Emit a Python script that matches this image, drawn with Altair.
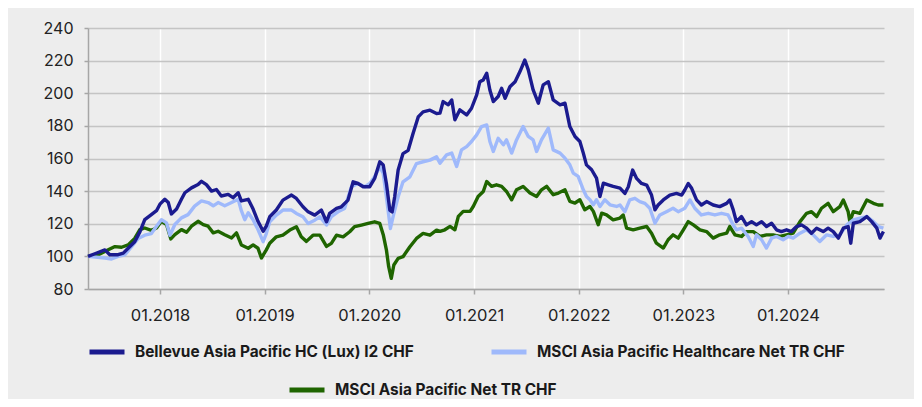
import altair as alt
import pandas as pd

# ---- data (decimal year, indexed value) ----
bellevue_t = [2017.315, 2017.379, 2017.475, 2017.522, 2017.602, 2017.650, 2017.697, 2017.761, 2017.809, 2017.857,
              2017.920, 2017.968, 2018.000, 2018.048, 2018.080, 2018.111, 2018.159, 2018.207, 2018.239, 2018.302,
              2018.366, 2018.398, 2018.446, 2018.494, 2018.541, 2018.589, 2018.653, 2018.701, 2018.748, 2018.780,
              2018.844, 2018.892, 2018.939, 2018.987, 2019.019, 2019.051, 2019.115, 2019.178, 2019.258, 2019.306,
              2019.369, 2019.417, 2019.481, 2019.545, 2019.592, 2019.624, 2019.688, 2019.736, 2019.799, 2019.847,
              2019.895, 2019.943, 2020.006, 2020.054, 2020.102, 2020.134, 2020.166, 2020.197, 2020.220, 2020.245,
              2020.277, 2020.325, 2020.373, 2020.420, 2020.468, 2020.516, 2020.580, 2020.643, 2020.675, 2020.707,
              2020.755, 2020.787, 2020.818, 2020.866, 2020.930, 2020.978, 2021.025, 2021.057, 2021.089, 2021.121,
              2021.153, 2021.185, 2021.232, 2021.264, 2021.296, 2021.344, 2021.392, 2021.439, 2021.487, 2021.519,
              2021.567, 2021.615, 2021.662, 2021.710, 2021.758, 2021.822, 2021.869, 2021.917, 2021.965, 2022.013,
              2022.044, 2022.076, 2022.124, 2022.172, 2022.204, 2022.236, 2022.283, 2022.331, 2022.395, 2022.443,
              2022.474, 2022.516, 2022.554, 2022.602, 2022.650, 2022.697, 2022.729, 2022.761, 2022.809, 2022.873,
              2022.936, 2022.984, 2023.016, 2023.048, 2023.080, 2023.127, 2023.175, 2023.223, 2023.287, 2023.350,
              2023.414, 2023.446, 2023.478, 2023.509, 2023.557, 2023.605, 2023.653, 2023.701, 2023.748, 2023.796,
              2023.844, 2023.892, 2023.939, 2023.987, 2024.035, 2024.083, 2024.130, 2024.178, 2024.226, 2024.274,
              2024.338, 2024.385, 2024.433, 2024.481, 2024.529, 2024.576, 2024.599, 2024.624, 2024.688, 2024.752,
              2024.799, 2024.847, 2024.879, 2024.911]
bellevue_v = [100, 101.6, 104, 101, 101, 102, 105, 109, 115, 122.5,
              125.6, 128, 132, 135, 133, 126, 129, 135, 139, 142,
              144, 146, 144, 140, 141, 137, 138, 136, 139, 134,
              135, 129, 121.5, 115.4, 118.5, 124.3, 128.4, 134.5, 137.6, 135.5,
              130.4, 127.3, 125.3, 128.4, 121.2, 126.3, 129.4, 130.4, 134.5, 145.7,
              144.7, 142.7, 142.7, 147.8, 158, 156, 144.7, 128.4, 127.3, 136.5,
              152.9, 163, 165, 175.3, 185.5, 188.6, 189.6, 187.6, 187.8, 194.9,
              192.9, 195.9, 183.7, 189.8, 186.7, 190.8, 199, 207.1, 208.2, 212.2,
              202, 194.9, 198, 203, 196.9, 204, 207.1, 213.3, 220.4, 214.3,
              202, 193.9, 205.1, 207.1, 195.9, 192.9, 193.9, 179.6, 173.5, 170.4,
              163.3, 156.1, 153.1, 148, 136.7, 144.9, 143.9, 142.9, 141.8, 138.6,
              142.7, 152.9, 147.8, 144.7, 143.7, 137.6, 128.5, 131.5, 134.6, 137.6,
              138.6, 137.6, 140.7, 144.7, 141.7, 134.6, 131.5, 133.6, 131.5, 130.5,
              132.5, 134.6, 128.5, 121.3, 124.4, 119.3, 121.3, 119.3, 121.3, 118.3,
              120.3, 116.3, 115.2, 116.3, 115.2, 118.3, 119.3, 117.3, 114.2, 117.3,
              115.2, 117.3, 115.2, 111.2, 117.3, 118.3, 108.1, 120.3, 121.3, 124.4,
              121.3, 117.3, 111.2, 115.2]

healthcare_t = [2017.315, 2017.475, 2017.538, 2017.602, 2017.666, 2017.729, 2017.793, 2017.857, 2017.920, 2017.968,
                2018.016, 2018.064, 2018.096, 2018.143, 2018.207, 2018.271, 2018.334, 2018.398, 2018.462, 2018.510,
                2018.557, 2018.621, 2018.685, 2018.748, 2018.780, 2018.812, 2018.844, 2018.892, 2018.939, 2018.987,
                2019.019, 2019.051, 2019.115, 2019.178, 2019.258, 2019.306, 2019.369, 2019.417, 2019.481, 2019.529,
                2019.592, 2019.640, 2019.704, 2019.767, 2019.831, 2019.895, 2019.959, 2020.006, 2020.054, 2020.102,
                2020.134, 2020.166, 2020.204, 2020.236, 2020.277, 2020.325, 2020.389, 2020.452, 2020.516, 2020.580,
                2020.643, 2020.675, 2020.739, 2020.787, 2020.834, 2020.882, 2020.930, 2020.978, 2021.025, 2021.073,
                2021.121, 2021.153, 2021.185, 2021.232, 2021.280, 2021.312, 2021.360, 2021.408, 2021.471, 2021.519,
                2021.567, 2021.599, 2021.646, 2021.710, 2021.758, 2021.822, 2021.869, 2021.917, 2021.949, 2021.997,
                2022.044, 2022.076, 2022.108, 2022.140, 2022.172, 2022.204, 2022.252, 2022.299, 2022.363, 2022.395,
                2022.443, 2022.490, 2022.538, 2022.586, 2022.634, 2022.681, 2022.729, 2022.777, 2022.841, 2022.904,
                2022.952, 2023.016, 2023.064, 2023.111, 2023.175, 2023.239, 2023.302, 2023.366, 2023.430, 2023.478,
                2023.509, 2023.557, 2023.621, 2023.669, 2023.701, 2023.748, 2023.796, 2023.844, 2023.892, 2023.955,
                2024.003, 2024.051, 2024.115, 2024.178, 2024.242, 2024.306, 2024.369, 2024.433, 2024.497, 2024.561,
                2024.624, 2024.688, 2024.752, 2024.815, 2024.863, 2024.911]
healthcare_v = [100, 99, 98.4, 100, 101, 106, 111, 113, 114, 118.5,
                122.5, 120.5, 113, 119.5, 123.6, 125.6, 130.8, 134, 133, 131,
                133, 131, 133, 135, 128, 122.5, 126.7, 122.5, 116.4, 109,
                114, 121.2, 125.3, 128.4, 128.4, 126.3, 124.3, 120.2, 122.2, 124.3,
                119.2, 124.3, 127.3, 129.4, 142.7, 144.7, 142.7, 144.7, 148.8, 154.9,
                150.8, 136.5, 117.1, 126.3, 136.5, 145.7, 148.8, 156.9, 158, 159,
                161, 157.1, 162.2, 163.3, 155.1, 165.3, 167.3, 170.4, 174.5, 179.6,
                180.6, 170.4, 164.3, 172.4, 168.4, 171.4, 163.3, 171.4, 179.6, 173.5,
                171.4, 164.3, 171.4, 178.6, 165.3, 163.3, 160.2, 156.1, 151, 149,
                140.8, 136.7, 134.7, 131.6, 134.7, 130.6, 134.7, 131.6, 130.6, 131.5,
                127.4, 134.6, 135.6, 133.6, 132.5, 129.5, 120.3, 125.4, 127.4, 129.5,
                127.4, 129.5, 134.6, 129.5, 125.4, 126.4, 125.4, 126.4, 125.4, 119.3,
                116.3, 117.3, 112.2, 106.1, 113.2, 110.2, 105.1, 111.2, 112.2, 110.2,
                112.2, 111.2, 114.2, 116.3, 113.2, 109.1, 113.2, 112.2, 113.2, 119.3,
                122.4, 123.4, 124.4, 121.3, 118.3, 117.3]

asiapac_t = [2017.315, 2017.411, 2017.522, 2017.570, 2017.634, 2017.697, 2017.761, 2017.809, 2017.857, 2017.920,
             2017.968, 2018.016, 2018.064, 2018.105, 2018.143, 2018.207, 2018.255, 2018.302, 2018.366, 2018.414,
             2018.462, 2018.510, 2018.557, 2018.621, 2018.685, 2018.732, 2018.780, 2018.844, 2018.892, 2018.939,
             2018.971, 2019.019, 2019.051, 2019.115, 2019.178, 2019.242, 2019.306, 2019.353, 2019.401, 2019.465,
             2019.529, 2019.592, 2019.640, 2019.688, 2019.752, 2019.815, 2019.863, 2019.927, 2019.990, 2020.054,
             2020.102, 2020.134, 2020.166, 2020.188, 2020.213, 2020.236, 2020.277, 2020.325, 2020.389, 2020.452,
             2020.516, 2020.580, 2020.643, 2020.675, 2020.723, 2020.771, 2020.818, 2020.850, 2020.898, 2020.962,
             2020.994, 2021.041, 2021.089, 2021.121, 2021.169, 2021.216, 2021.264, 2021.312, 2021.360, 2021.408,
             2021.471, 2021.535, 2021.599, 2021.646, 2021.694, 2021.758, 2021.806, 2021.869, 2021.917, 2021.965,
             2022.013, 2022.060, 2022.108, 2022.140, 2022.188, 2022.220, 2022.267, 2022.331, 2022.395, 2022.427,
             2022.459, 2022.522, 2022.586, 2022.650, 2022.697, 2022.745, 2022.809, 2022.857, 2022.904, 2022.952,
             2023.000, 2023.048, 2023.096, 2023.159, 2023.223, 2023.287, 2023.350, 2023.414, 2023.446, 2023.494,
             2023.557, 2023.605, 2023.669, 2023.732, 2023.796, 2023.860, 2023.924, 2023.987, 2024.051, 2024.115,
             2024.178, 2024.226, 2024.274, 2024.322, 2024.385, 2024.433, 2024.497, 2024.529, 2024.576, 2024.592,
             2024.624, 2024.688, 2024.752, 2024.815, 2024.863, 2024.911]
asiapac_v = [100, 101, 104.5, 106, 105.6, 107, 111, 116.4, 117.4, 116,
             117.4, 121.5, 119.5, 110.7, 113.3, 116.4, 114.8, 118.5, 121.5, 119.5,
             118.5, 114.4, 115.4, 113.3, 111.3, 114.4, 107, 105, 107, 105,
             99, 104, 108, 112, 113, 116.1, 118.2, 112, 109.2, 113,
             113, 106.1, 108, 113, 112, 115.1, 118.2, 119.2, 120.2, 121.2,
             120.2, 113.3, 104, 93.7, 86.5, 94.7, 98.8, 99.8, 105.9, 111,
             114.1, 113, 116.1, 115.3, 116.3, 118.4, 116.3, 124.5, 127.6, 127.6,
             130.6, 136.7, 139.8, 145.9, 142.9, 143.9, 142.9, 139.8, 134.7, 140.8,
             142.9, 138.8, 136.7, 140.8, 142.9, 137.8, 138.8, 140.8, 133.7, 132.7,
             134.7, 128.6, 130.6, 127.6, 119.4, 126.5, 125.5, 122.4, 123.5, 125.4,
             117.3, 116.3, 117.3, 118.3, 114.2, 108.1, 105.1, 110.2, 113.2, 111.2,
             116.3, 121.3, 119.3, 116.3, 115.2, 111.2, 113.2, 114.2, 118.3, 113.2,
             112.2, 115.2, 115.2, 112.2, 113.2, 113.2, 112.2, 113.2, 114.2, 121.3,
             126.4, 127.4, 124.4, 129.5, 132.5, 127.4, 130.5, 134.6, 127.4, 121.3,
             127.4, 126.4, 134.6, 132.5, 131.5, 131.5]

series_names = ["Bellevue Asia Pacific HC (Lux) I2 CHF",
                "MSCI Asia Pacific Healthcare Net TR CHF",
                "MSCI Asia Pacific Net TR CHF"]
series_colors = ["#1b1b8f", "#9fb9fb", "#1f6500"]
x_tick_years = [2018, 2019, 2020, 2021, 2022, 2023, 2024]
y_ticks = [80, 100, 120, 140, 160, 180, 200, 220, 240]


def to_date(t):
    y = int(t)
    start = pd.Timestamp(year=y, month=1, day=1)
    end = pd.Timestamp(year=y + 1, month=1, day=1)
    return (start + (end - start) * (t - y)).normalize()


FONT = "Inter"

x_enc = alt.X(
    "date:T",
    scale=alt.Scale(domain=[alt.DateTime(year=2017, month=4, date=25),
                            alt.DateTime(year=2024, month=12, date=1)], nice=False),
    axis=alt.Axis(
        values=[alt.DateTime(year=y, month=1, date=1) for y in x_tick_years],
        format="%m.%Y", title=None, grid=True, gridColor="#ffffff", gridWidth=1.5,
        domainColor="#a6a6a6", domainWidth=1.5, tickColor="#a6a6a6", tickSize=5,
        tickWidth=1.5, labelPadding=13, labelFontSize=16.5, labelColor="#222222",
        labelFont=FONT,
    ),
)
y_enc = alt.Y(
    "value:Q",
    scale=alt.Scale(domain=[80, 240], nice=False, zero=False),
    axis=alt.Axis(
        values=y_ticks, title=None, grid=True, gridColor="#c4c4c4", gridWidth=1.5,
        domainColor="#a6a6a6", domainWidth=1.5, tickColor="#a6a6a6", tickSize=4,
        tickWidth=1.5, labelPadding=11, labelFontSize=16, labelColor="#222222",
        labelFont=FONT,
    ),
)


def series_layer(t, v, name, color, lx, ly):
    df = pd.DataFrame({"date": [to_date(a) for a in t], "value": v, "series": name})
    return alt.Chart(df).mark_line(strokeWidth=3.4, strokeJoin="round").encode(
        x=x_enc,
        y=y_enc,
        color=alt.Color(
            "series:N",
            scale=alt.Scale(domain=[name], range=[color]),
            legend=alt.Legend(
                orient="none", legendX=lx, legendY=ly, title=None,
                symbolType="stroke", symbolSize=1225, symbolStrokeWidth=5,
                labelFont=FONT, labelFontSize=15.4, labelFontWeight="bold",
                labelColor="#1a1a1a", labelLimit=600, labelOffset=8, padding=0,
            ),
        ),
    )


green = series_layer(asiapac_t, asiapac_v, series_names[2], series_colors[2], 199, 342)
light = series_layer(healthcare_t, healthcare_v, series_names[1], series_colors[1], 401, 304)
navy = series_layer(bellevue_t, bellevue_v, series_names[0], series_colors[0], -1, 304)

chart = (
    alt.layer(green, light, navy)
    .resolve_scale(color="independent")
    .properties(
        width=796, height=261, autosize="none",
        padding={"left": 80, "top": 20, "right": 30, "bottom": 110},
        background="#ededed",
    )
    .configure_view(stroke=None)
)

chart.save("out.html", embed_options={"renderer": "svg", "actions": False})
